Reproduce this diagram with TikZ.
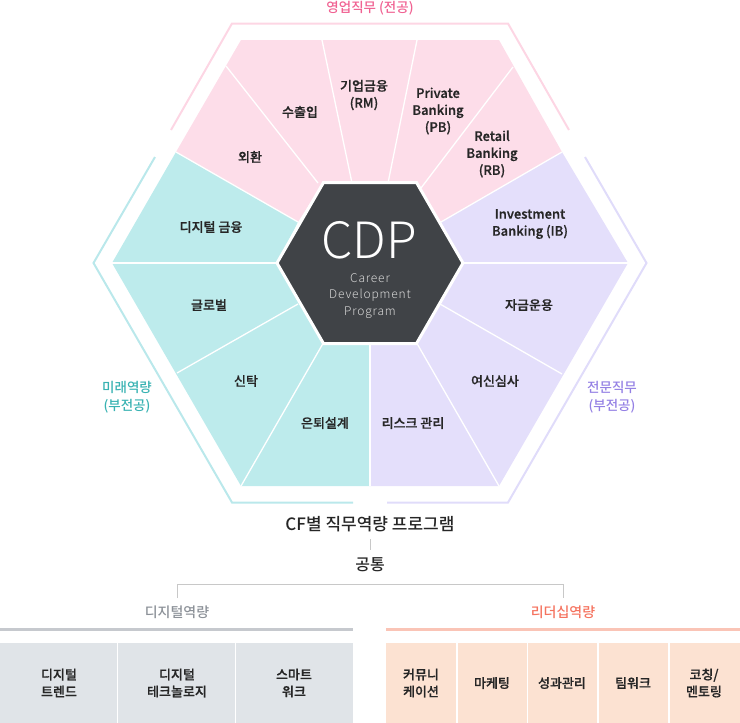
\documentclass[tikz,border=0pt]{standalone}
\usepackage{fontspec}
\setmainfont{Noto Sans CJK KR}
\newfontfamily\lightfont{Noto Sans CJK KR Light}
\newfontfamily\medfont{Noto Sans CJK KR Medium}
\newfontfamily\labfont{Noto Sans CJK KR Medium}[FakeBold=0.8]
\definecolor{pinkF}{RGB}{253,221,233}
\definecolor{tealF}{RGB}{189,235,236}
\definecolor{purpF}{RGB}{228,223,251}
\definecolor{pinkL}{RGB}{253,214,228}
\definecolor{tealL}{RGB}{186,232,235}
\definecolor{purpL}{RGB}{224,220,250}
\definecolor{pinkT}{RGB}{240,98,146}
\definecolor{tealT}{RGB}{56,178,178}
\definecolor{purpT}{RGB}{148,128,228}
\definecolor{hexdark}{RGB}{64,67,71}
\definecolor{txt}{RGB}{38,38,38}
\definecolor{connG}{RGB}{200,200,200}
\definecolor{grayT}{RGB}{140,145,152}
\definecolor{salmonT}{RGB}{245,115,95}
\definecolor{grayBox}{RGB}{224,228,232}
\definecolor{salmonBox}{RGB}{252,226,210}
\definecolor{grayBar}{RGB}{198,201,206}
\definecolor{salmonBar}{RGB}{250,196,182}
\tikzset{
  seclabel/.style={font=\labfont\fontsize{13}{17}\selectfont, text=txt, align=center, inner sep=0pt},
  divider/.style={draw=white, line width=1.3pt},
  frame/.style={line width=2pt},
  sidelabel/.style={font=\medfont\fontsize{13.5}{18}\selectfont, align=center, inner sep=0pt},
  boxlabel/.style={font=\labfont\fontsize{13}{17}\selectfont, text=txt, align=center, inner sep=0pt},
}
\begin{document}
\begin{tikzpicture}[x=1pt,y=-1pt]
\useasboundingbox (0,0) rectangle (740,723);
% outer frames
\draw[frame, pinkL] (171,130) -- (232,23.5) -- (508,23.5) -- (569,130);
\draw[frame, tealL] (155,157) -- (93.5,263) -- (232,502.5) -- (353,502.5);
\draw[frame, purpL] (585,157) -- (646.5,263) -- (508,502.5) -- (387,502.5);
% sector fills
\fill[pinkF] (176,152) -- (241,40) -- (499,40) -- (562,152) -- (441,222) -- (417,183) -- (323,183) -- (298,222) -- cycle;
\fill[tealF] (176,152) -- (112,263) -- (241,486) -- (370,486) -- (370,343.5) -- (323,343.5) -- (277,263) -- (298,222) -- cycle;
\fill[purpF] (562,152) -- (628,263) -- (499,486) -- (370,486) -- (370,343.5) -- (417,343.5) -- (463,263) -- (441,222) -- cycle;
% dividers
\draw[divider] (176,152) -- (298,222);
\draw[divider] (562,152) -- (441,222);
\draw[divider] (226,66) -- (318,183);
\draw[divider] (322,40) -- (352,183);
\draw[divider] (417,40) -- (388,183);
\draw[divider] (513,67) -- (421,188);
\draw[divider] (112,263) -- (277,263);
\draw[divider] (177,373) -- (298,304);
\draw[divider] (241,486) -- (323,343.5);
\draw[divider] (370,486) -- (370,343.5);
\draw[divider] (463,263) -- (628,263);
\draw[divider] (440,304) -- (562,374);
\draw[divider] (417,343.5) -- (499,486);
% central hexagon
\draw[white, line width=3pt, fill=hexdark] (463,263) -- (416.5,182.5) -- (323.5,182.5) -- (277,263) -- (323.5,343.5) -- (416.5,343.5) -- cycle;
\node[font=\lightfont\fontsize{50}{50}\selectfont, text=white, inner sep=0pt] (cdp) at (369,240) {CDP};
\node[font=\lightfont\fontsize{12}{16.5}\selectfont\addfontfeatures{LetterSpace=7}, text=white!85!black, align=center, inner sep=0pt] (cdpsub) at (370,296) {Career\\Development\\Program};
% group titles
\node[sidelabel, text=pinkT] (sales) at (370,8) {영업직무 (전공)};
\node[sidelabel, text=tealT] (future) at (127,397) {미래역량\\(부전공)};
\node[sidelabel, text=purpT] (expert) at (612,397) {전문직무\\(부전공)};
% sector labels
\node[seclabel] (s1) at (250,157) {외환};
\node[seclabel] (s2) at (300,112) {수출입};
\node[seclabel] (s3) at (364,95) {기업금융\\(RM)};
\node[seclabel] (s4) at (438,111) {Private\\Banking\\(PB)};
\node[seclabel] (s5) at (492,154) {Retail\\Banking\\(RB)};
\node[seclabel] (s6) at (211,227) {디지털 금융};
\node[seclabel] (s7) at (209,305) {글로벌};
\node[seclabel] (s8) at (246,381) {신탁};
\node[seclabel] (s9) at (325,423) {은퇴설계};
\node[seclabel] (s10) at (530,224) {Investment\\Banking (IB)};
\node[seclabel] (s11) at (529,305) {자금운용};
\node[seclabel] (s12) at (495,381) {여신심사};
\node[seclabel] (s13) at (413,423) {리스크 관리};
% bottom section
\node[font=\medfont\fontsize{17}{20}\selectfont, text=txt, inner sep=0pt] (cf) at (370,524) {CF별 직무역량 프로그램};
\node[font=\medfont\fontsize{16}{20}\selectfont, text=txt, inner sep=0pt] (common) at (370,565) {공통};
\draw[connG, line width=1pt] (370,539) -- (370,550);
\coordinate (bl) at (177,598);
\coordinate (br) at (563,598);
\draw[connG, line width=1pt] (bl) -- (177,584) -- (563,584) -- (br);
\node[font=\medfont\fontsize{14}{18}\selectfont, text=grayT, inner sep=0pt] (dig) at (177,612) {디지털역량};
\node[font=\medfont\fontsize{14}{18}\selectfont, text=salmonT, inner sep=0pt] (lead) at (563,612) {리더십역량};
\fill[grayBar] (0,628) rectangle (353,630.5);
\fill[salmonBar] (386,628) rectangle (740,630.5);
% boxes
\fill[grayBox] (0,643) rectangle (353,723);
\fill[salmonBox] (386,643) rectangle (740,723);
\foreach \xx in {117.5,235.5} \draw[white, line width=1.2pt] (\xx,643) -- (\xx,723);
\foreach \xx in {457,527.5,598,669} \draw[white, line width=1.2pt] (\xx,643) -- (\xx,723);
\node[boxlabel] (g1) at (59,683) {디지털\\트렌드};
\node[boxlabel] (g2) at (177,683) {디지털\\테크놀로지};
\node[boxlabel] (g3) at (294,683) {스마트\\워크};
\node[boxlabel] (l1) at (421,683) {커뮤니\\케이션};
\node[boxlabel] (l2) at (492,683) {마케팅};
\node[boxlabel] (l3) at (562,683) {성과관리};
\node[boxlabel] (l4) at (633,683) {팀워크};
\node[boxlabel] (l5) at (704,683) {코칭/\\멘토링};
\end{tikzpicture}
\end{document}
